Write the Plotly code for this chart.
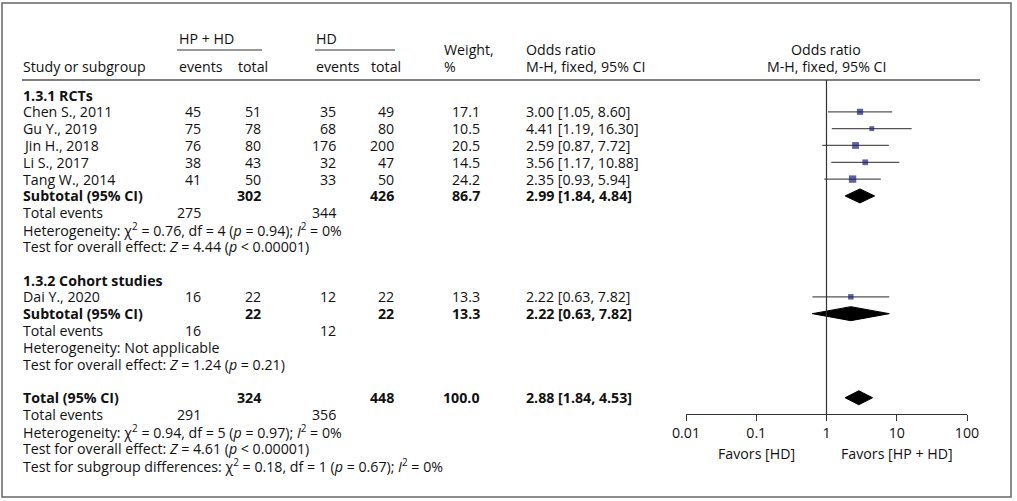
import plotly.graph_objects as go

# ---------------- data ----------------
rct_studies = ["Chen S., 2011", "Gu Y., 2019", "Jin H., 2018", "Li S., 2017", "Tang W., 2014"]
rct_hp_events = [45, 75, 76, 38, 41]
rct_hp_total = [51, 78, 80, 43, 50]
rct_hd_events = [35, 68, 176, 32, 33]
rct_hd_total = [49, 80, 200, 47, 50]
rct_weight = [17.1, 10.5, 20.5, 14.5, 24.2]
rct_or = [3.00, 4.41, 2.59, 3.56, 2.35]
rct_lo = [1.05, 1.19, 0.87, 1.17, 0.93]
rct_hi = [8.60, 16.30, 7.72, 10.88, 5.94]

coh_studies = ["Dai Y., 2020"]
coh_hp_events = [16]
coh_hp_total = [22]
coh_hd_events = [12]
coh_hd_total = [22]
coh_weight = [13.3]
coh_or = [2.22]
coh_lo = [0.63]
coh_hi = [7.82]

# subtotal / total: [hp_total, hd_total, weight, or, lo, hi, hp_events, hd_events]
rct_sub = [302, 426, 86.7, 2.99, 1.84, 4.84, 275, 344]
coh_sub = [22, 22, 13.3, 2.22, 0.63, 7.82, 16, 12]
overall = [324, 448, 100.0, 2.88, 1.84, 4.53, 291, 356]

rct_het = "Heterogeneity: χ<sup>2</sup> = 0.76, df = 4 (<i>p</i> = 0.94); <i>I</i><sup>2</sup> = 0%"
rct_test = "Test for overall effect: <i>Z</i> = 4.44 (<i>p</i> < 0.00001)"
coh_het = "Heterogeneity: Not applicable"
coh_test = "Test for overall effect: <i>Z</i> = 1.24 (<i>p</i> = 0.21)"
tot_het = "Heterogeneity: χ<sup>2</sup> = 0.94, df = 5 (<i>p</i> = 0.97); <i>I</i><sup>2</sup> = 0%"
tot_test = "Test for overall effect: <i>Z</i> = 4.61 (<i>p</i> < 0.00001)"
sub_test = "Test for subgroup differences: χ<sup>2</sup> = 0.18, df = 1 (<i>p</i> = 0.67); <i>I</i><sup>2</sup> = 0%"

tick_vals = [0.01, 0.1, 1, 10, 100]
tick_text = ["0.01", "0.1", "1", "10", "100"]

# ---------------- layout constants ----------------
W, H = 1017, 501
FONT = "Open Sans"
FS = 14.2
Y0, DY = 95.0, 16.82
X_LABEL, X_HPE, X_HPT, X_HDE, X_HDT, X_W, X_OR = 22, 202, 262, 337, 395, 481, 525
AXIS_Y = 414

def ry(i):
    return Y0 + DY * i

def px(x):
    return x / W

ann = []

def txt(x, y, s, anchor="left", bold=False, size=FS):
    if bold:
        s = "<b>" + s + "</b>"
    ann.append(dict(x=px(x), y=y, xref="paper", yref="y", text=s, showarrow=False,
                    xanchor=anchor, yanchor="middle", borderpad=0,
                    font=dict(family=FONT, size=size, color="#111")))

# headers
txt(178, 38, "HP + HD")
txt(315, 38, "HD")
txt(22, 66, "Study or subgroup")
txt(178, 66, "events")
txt(237, 66, "total")
txt(315, 66, "events")
txt(370, 66, "total")
txt(443, 49, "Weight,")
txt(443, 66, "%")
txt(525, 49, "Odds ratio")
txt(525, 66, "M-H, fixed, 95% CI")
txt(826, 49, "Odds ratio", anchor="center")
txt(826, 66, "M-H, fixed, 95% CI", anchor="center")

forest_rows = []  # (y, or, lo, hi, weight)
diamonds = []     # (y, or, lo, hi)

def study_block(start, title, names, hpe, hpt, hde, hdt, w, orv, lo, hi, sub, het, test):
    txt(X_LABEL, ry(start), title, bold=True)
    r = start + 1
    for k in range(len(names)):
        y = ry(r)
        txt(X_LABEL, y, names[k])
        txt(X_HPE, y, str(hpe[k]), "right")
        txt(X_HPT, y, str(hpt[k]), "right")
        txt(X_HDE, y, str(hde[k]), "right")
        txt(X_HDT, y, str(hdt[k]), "right")
        txt(X_W, y, f"{w[k]:.1f}", "right")
        txt(X_OR, y, f"{orv[k]:.2f} [{lo[k]:.2f}, {hi[k]:.2f}]")
        forest_rows.append((y, orv[k], lo[k], hi[k], w[k]))
        r += 1
    y = ry(r)
    txt(X_LABEL, y, "Subtotal (95% CI)", bold=True)
    txt(X_HPT, y, str(sub[0]), "right", bold=True)
    txt(X_HDT, y, str(sub[1]), "right", bold=True)
    txt(X_W, y, f"{sub[2]:.1f}", "right", bold=True)
    txt(X_OR, y, f"{sub[3]:.2f} [{sub[4]:.2f}, {sub[5]:.2f}]", bold=True)
    diamonds.append((y, sub[3], sub[4], sub[5]))
    r += 1
    txt(X_LABEL, ry(r), "Total events")
    txt(X_HPE, ry(r), str(sub[6]), "right")
    txt(X_HDE, ry(r), str(sub[7]), "right")
    r += 1
    txt(X_LABEL, ry(r), het)
    r += 1
    txt(X_LABEL, ry(r), test)

study_block(0, "1.3.1 RCTs", rct_studies, rct_hp_events, rct_hp_total, rct_hd_events,
            rct_hd_total, rct_weight, rct_or, rct_lo, rct_hi, rct_sub, rct_het, rct_test)
study_block(11, "1.3.2 Cohort studies", coh_studies, coh_hp_events, coh_hp_total, coh_hd_events,
            coh_hd_total, coh_weight, coh_or, coh_lo, coh_hi, coh_sub, coh_het, coh_test)

# overall
y = ry(18)
txt(X_LABEL, y, "Total (95% CI)", bold=True)
txt(X_HPT, y, str(overall[0]), "right", bold=True)
txt(X_HDT, y, str(overall[1]), "right", bold=True)
txt(X_W, y, f"{overall[2]:.1f}", "right", bold=True)
txt(X_OR, y, f"{overall[3]:.2f} [{overall[4]:.2f}, {overall[5]:.2f}]", bold=True)
diamonds.append((y, overall[3], overall[4], overall[5]))
txt(X_LABEL, ry(19), "Total events")
txt(X_HPE, ry(19), str(overall[6]), "right")
txt(X_HDE, ry(19), str(overall[7]), "right")
txt(X_LABEL, ry(20), tot_het)
txt(X_LABEL, ry(21), tot_test)
txt(X_LABEL, ry(22), sub_test)

txt(756, 453, "Favors [HD]", anchor="center")
txt(897, 453, "Favors [HP + HD]", anchor="center")

fig = go.Figure()

# CI lines
cx, cy = [], []
for (yy, o, l, h, w) in forest_rows:
    cx += [l, h, None]
    cy += [yy, yy, None]
fig.add_trace(go.Scatter(x=cx, y=cy, mode="lines",
                         line=dict(color="#555555", width=1.2), hoverinfo="skip"))
# squares
fig.add_trace(go.Scatter(x=[r[1] for r in forest_rows], y=[r[0] for r in forest_rows],
                         mode="markers",
                         marker=dict(symbol="square", color="#1E1F78",
                                     size=[1.5 * (r[4] ** 0.5) for r in forest_rows],
                                     line=dict(width=0))))
# diamonds
for (yy, o, l, h) in diamonds:
    hh = 7
    fig.add_trace(go.Scatter(x=[l, o, h, o, l], y=[yy, yy - hh, yy, yy + hh, yy],
                             mode="lines", fill="toself", fillcolor="#000000",
                             line=dict(color="#000000", width=1), hoverinfo="skip"))

shapes = [
    # outer border
    dict(type="rect", xref="paper", yref="paper", x0=px(2), x1=px(1011), y0=1 - 497 / H, y1=1 - 3 / H,
         line=dict(color="#666666", width=1.5)),
    # header rule
    dict(type="line", xref="paper", yref="y", x0=px(22), x1=px(980), y0=80, y1=80,
         line=dict(color="#555555", width=1.5)),
    # group underlines
    dict(type="line", xref="paper", yref="y", x0=px(177), x1=px(262), y0=50, y1=50,
         line=dict(color="#333333", width=1)),
    dict(type="line", xref="paper", yref="y", x0=px(315), x1=px(395), y0=50, y1=50,
         line=dict(color="#333333", width=1)),
    # line of no effect
    dict(type="line", xref="x", yref="y", x0=1, x1=1, y0=80, y1=AXIS_Y,
         line=dict(color="#333333", width=1.2)),
]

fig.update_layout(
    width=W, height=H, margin=dict(l=0, r=0, t=0, b=0, pad=0), autosize=False,
    paper_bgcolor="white", plot_bgcolor="rgba(0,0,0,0)", showlegend=False,
    font=dict(family=FONT, size=FS, color="#111"),
    xaxis=dict(type="log", range=[-2, 2], domain=[px(686), px(967)], anchor="free",
               position=1 - AXIS_Y / H, showgrid=False, zeroline=False, showline=True,
               automargin=False,
               linecolor="#333333", linewidth=1.2, ticks="outside", ticklen=6,
               tickcolor="#333333", tickwidth=1.2, tickvals=tick_vals, ticktext=tick_text,
               tickfont=dict(family=FONT, size=FS, color="#111")),
    yaxis=dict(range=[H, 0], domain=[0, 1], visible=False, automargin=False),
    annotations=ann, shapes=shapes,
)

fig.write_html("out.html", config={"displayModeBar": False},
               post_script="document.body.style.margin='0';document.body.style.overflow='hidden';")
